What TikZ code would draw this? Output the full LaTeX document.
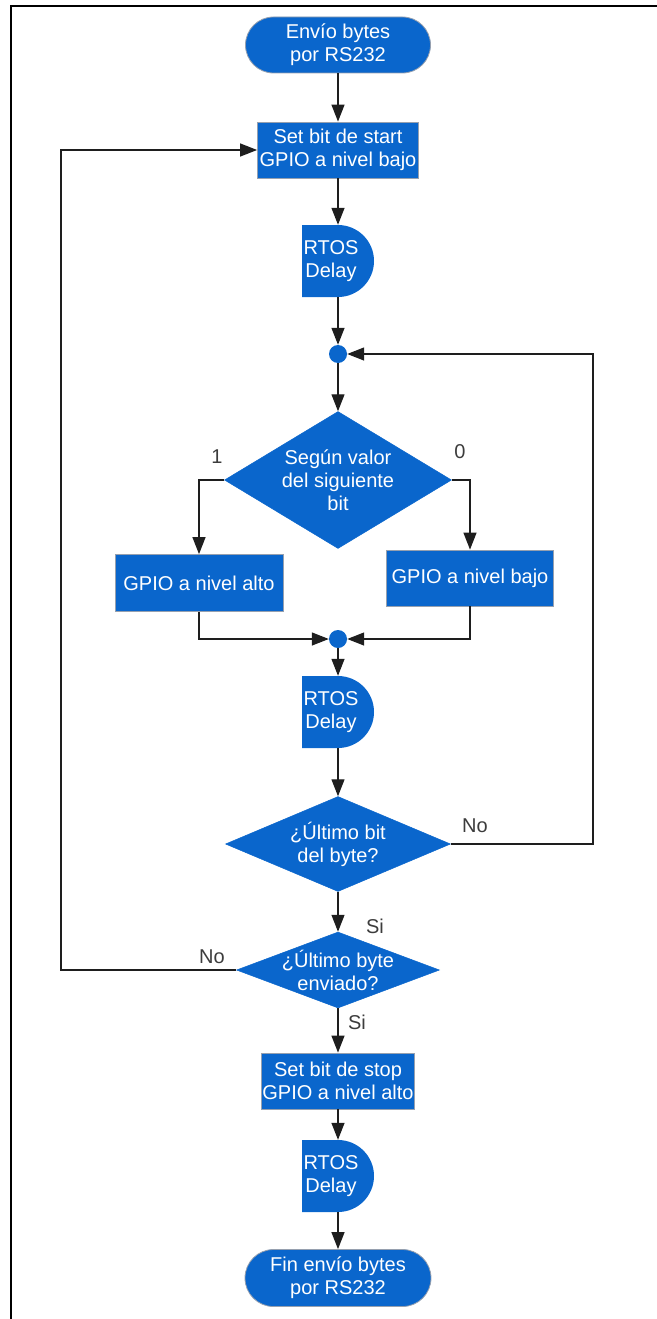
\documentclass[tikz,border=0pt]{standalone}
\usepackage{fontspec}
\setmainfont{Liberation Sans}
\usetikzlibrary{arrows.meta,shapes.misc,shapes.geometric}
\definecolor{flowblue}{RGB}{10,102,204}
\definecolor{rimgrey}{RGB}{150,160,175}
\definecolor{wiregrey}{RGB}{30,30,30}
\definecolor{tagtext}{RGB}{60,60,60}

\begin{document}
\begin{tikzpicture}[x=1pt,y=-1pt,
  every node/.style={font=\fontsize{20}{23}\selectfont, inner sep=0pt},
  block/.style={rectangle, fill=flowblue, draw=rimgrey, line width=0.8pt, text=white, align=center},
  terminal/.style={rounded rectangle, fill=flowblue, draw=rimgrey, line width=0.8pt, text=white, align=center},
  choice/.style={diamond, fill=flowblue, draw=flowblue, line width=0.5pt},
  waitbox/.style={rectangle, minimum width=72pt, minimum height=72pt,
    path picture={\fill[flowblue] (path picture bounding box.south west)
      -- (path picture bounding box.north west)
      -- ([xshift=-36pt]path picture bounding box.north east)
      arc[start angle=90,end angle=-90,radius=36pt] -- cycle;}},
  joint/.style={circle, fill=flowblue, minimum size=18pt},
  inside/.style={text=white, align=center},
  tag/.style={text=tagtext},
  wire/.style={draw=wiregrey, line width=1.3pt},
  flow/.style={wire, -{Triangle[length=17pt,width=13pt]}},
]
\useasboundingbox (0,0) rectangle (656,1319);

% page frame (left and top rules)
\draw[line width=2.2pt, black] (11,1325) -- (11,6) -- (662,6);

% main column
\node[terminal, minimum width=185pt, minimum height=56pt] (start) at (338,45) {Envío bytes\\por RS232};
\node[block, minimum width=161pt, minimum height=56pt] (setstart) at (338,150) {Set bit de start\\GPIO a nivel bajo};
\node[waitbox, label={[inside,xshift=-7pt]center:{RTOS\\Delay}}] (wait1) at (338,261) {};
\node[joint] (j1) at (338,354) {};
\node[choice, minimum width=227pt, minimum height=137pt,
      label={[inside]center:{Según valor\\del siguiente\\bit}}] (bitval) at (338,480) {};
\node[block, minimum width=168pt, minimum height=57pt] (high) at (199,583) {GPIO a nivel alto};
\node[block, minimum width=167pt, minimum height=56pt] (low) at (470,578) {GPIO a nivel bajo};
\node[joint] (j2) at (338,639) {};
\node[waitbox, label={[inside,xshift=-7pt]center:{RTOS\\Delay}}] (wait2) at (338,712) {};
\node[choice, minimum width=225pt, minimum height=95pt,
      label={[inside]center:{¿Último bit\\del byte?}}] (lastbit) at (338,844) {};
\node[choice, minimum width=203pt, minimum height=76pt,
      label={[inside]center:{¿Último byte\\enviado?}}] (lastbyte) at (338,970) {};
\node[block, minimum width=153pt, minimum height=56pt] (setstop) at (338,1081) {Set bit de stop\\GPIO a nivel alto};
\node[waitbox, label={[inside,xshift=-7pt]center:{RTOS\\Delay}}] (wait3) at (338,1176) {};
\node[terminal, minimum width=186pt, minimum height=57pt] (finish) at (338,1278) {Fin envío bytes\\por RS232};

% branch tags
\node[tag] (t1) at (217,457) {1};
\node[tag] (t0) at (460,452) {0};
\node[tag] (tno1) at (475,826) {No};
\node[tag] (tsi1) at (375,926) {Si};
\node[tag] (tno2) at (212,957) {No};
\node[tag] (tsi2) at (357,1022) {Si};

% connectors
\draw[flow] (start.south) -- (setstart.north);
\draw[flow] (setstart.south) -- (wait1.north);
\draw[flow] (wait1.south) -- (j1.north);
\draw[flow] (j1.south) -- (bitval.north);
\draw[flow] (bitval.west) -| (high.north);
\draw[flow] (bitval.east) -| (low.north);
\draw[flow] (high.south) |- (j2.west);
\draw[flow] (low.south) |- (j2.east);
\draw[flow] (j2.south) -- (wait2.north);
\draw[flow] (wait2.south) -- (lastbit.north);
\coordinate (rturn) at (593,354);
\draw[flow] (lastbit.east) -| (rturn) -- (j1.east);
\draw[flow] (lastbit.south) -- (lastbyte.north);
\coordinate (lturn) at (61,970);
\draw[flow] (lastbyte.west) -- (lturn) |- (setstart.west);
\draw[flow] (lastbyte.south) -- (setstop.north);
\draw[flow] (setstop.south) -- (wait3.north);
\draw[flow] (wait3.south) -- (finish.north);
\end{tikzpicture}
\end{document}
